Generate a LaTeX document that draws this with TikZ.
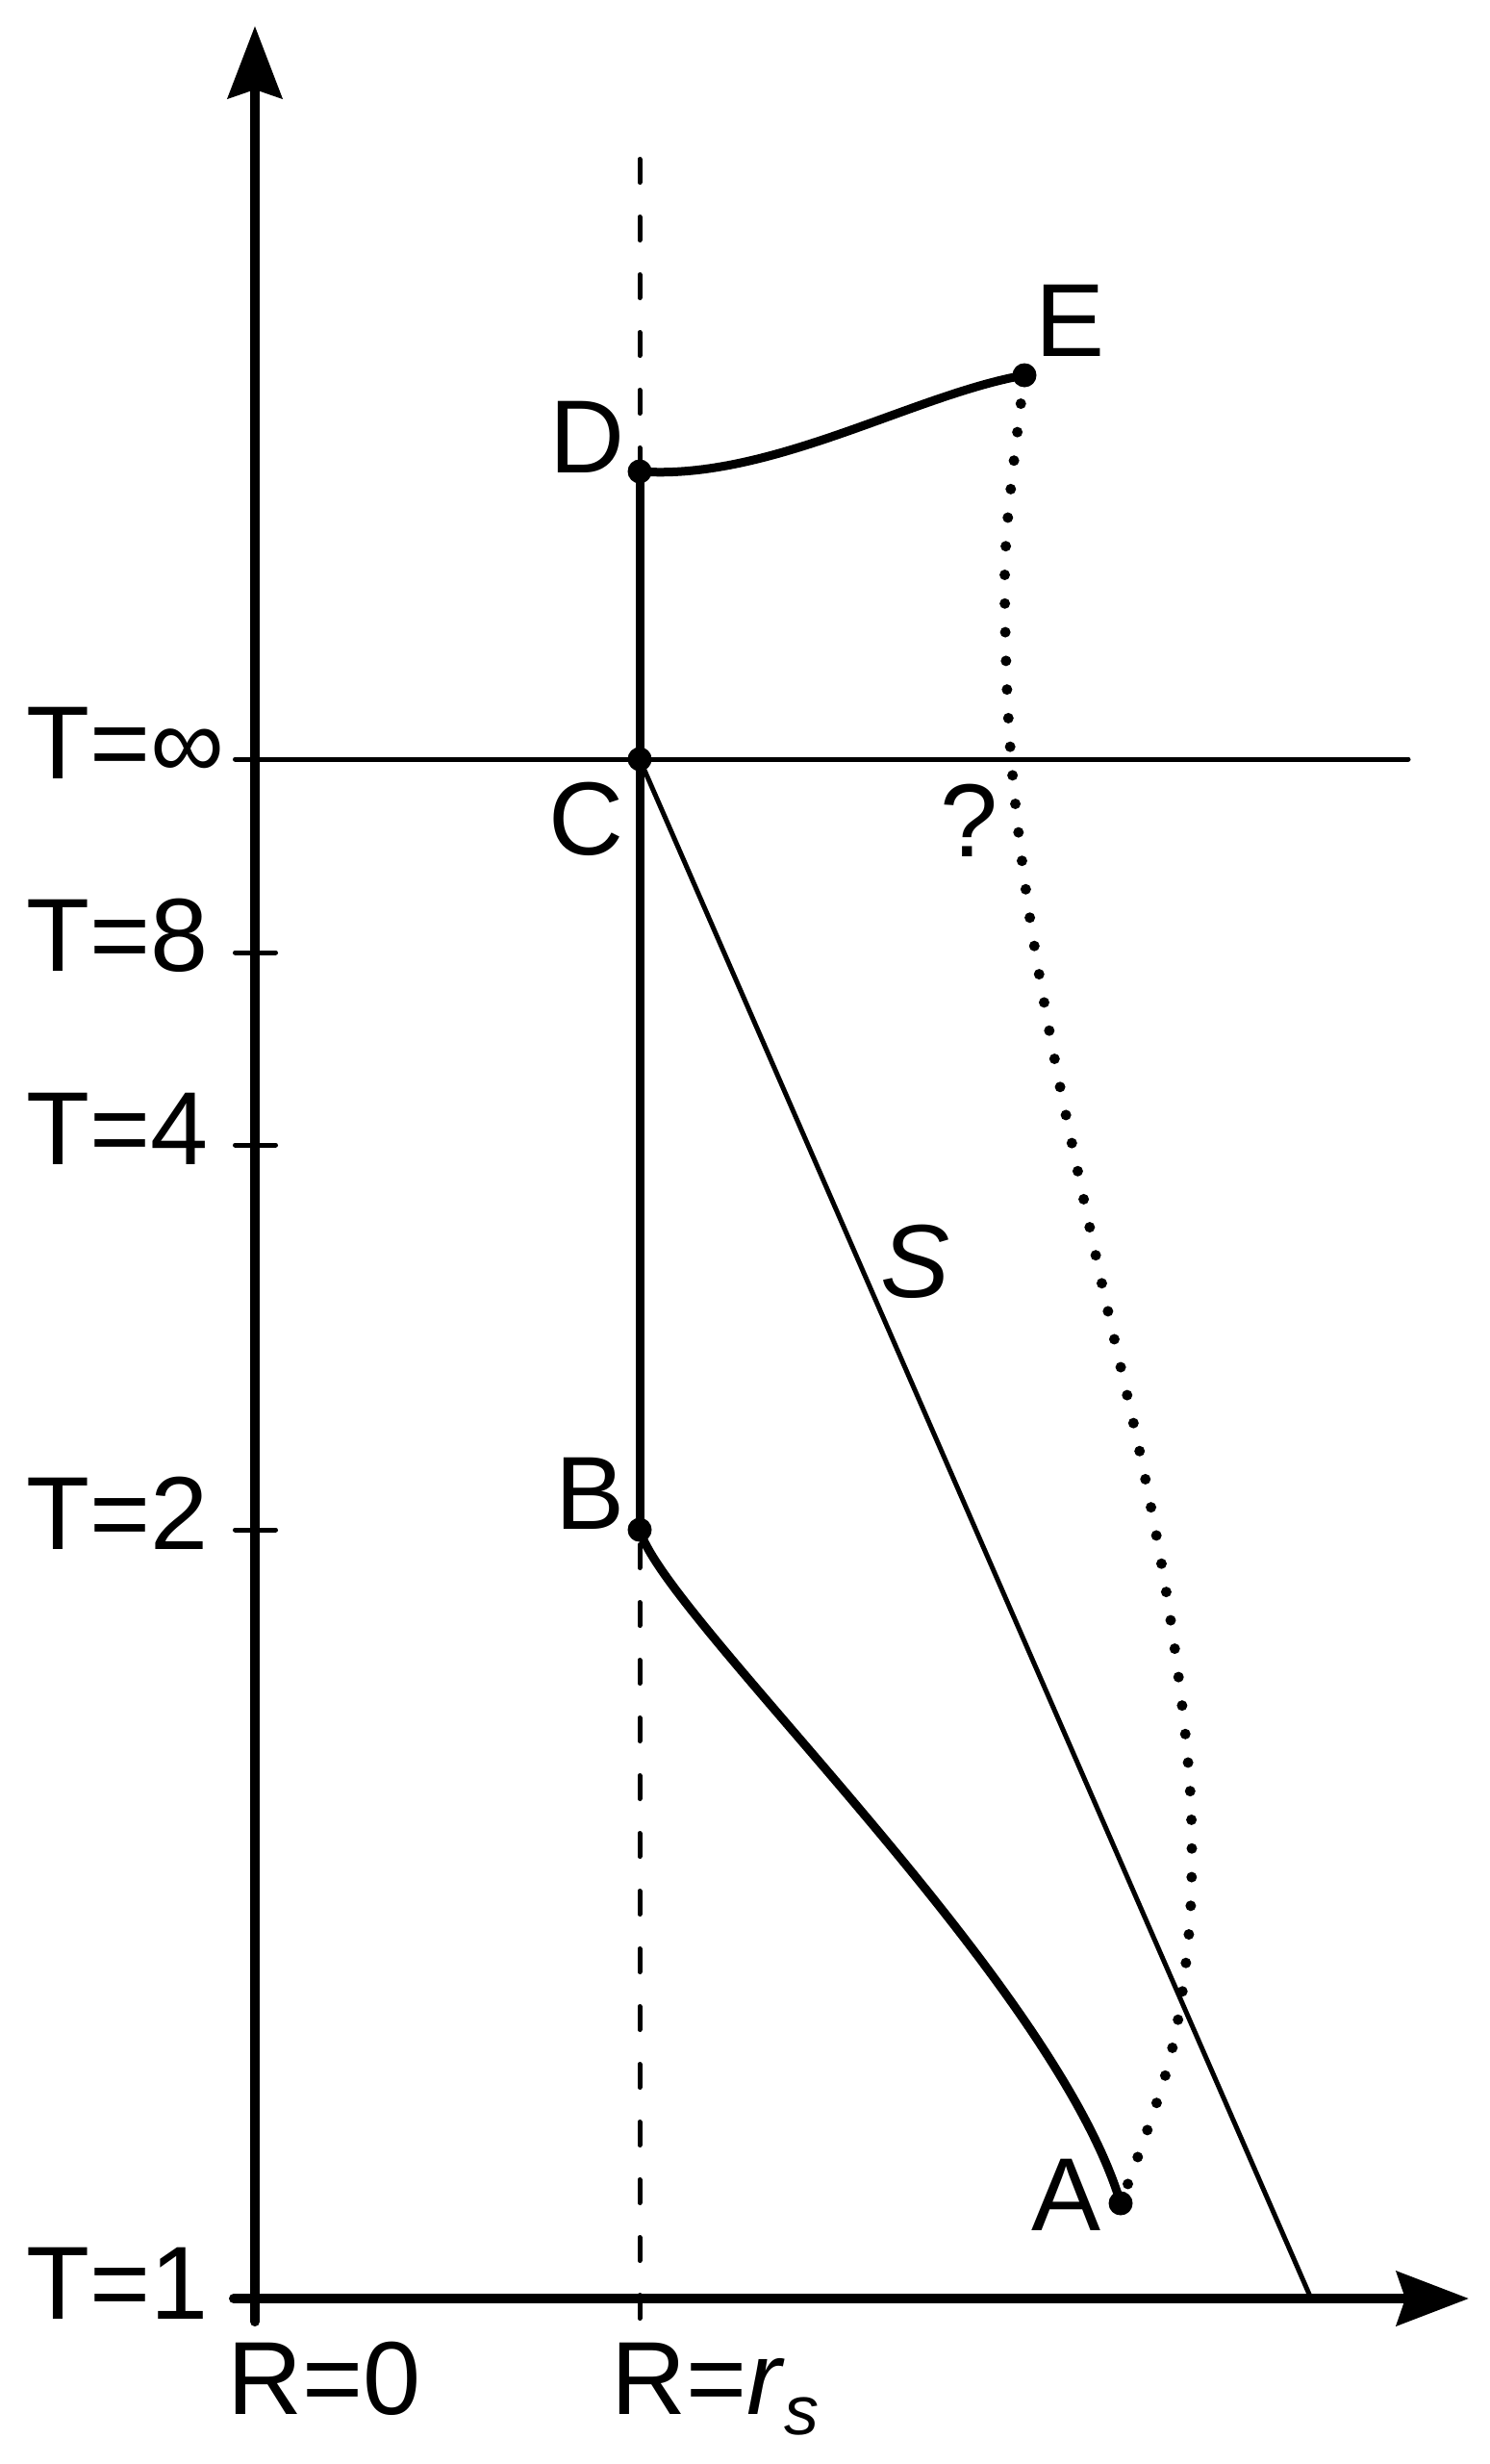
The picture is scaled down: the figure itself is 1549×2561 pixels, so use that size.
\documentclass[tikz,border=0pt]{standalone}
\usepackage{fontspec}
\setmainfont{Liberation Sans}
\usetikzlibrary{arrows.meta}
\begin{document}
\begin{tikzpicture}[x=1pt,y=-1pt,
  lbl/.style={inner sep=0pt, anchor=base west, font=\fontsize{108}{108}\selectfont},
  axisline/.style={line width=10pt, line cap=round, -{Stealth[length=75pt,width=56pt,inset=9pt]}},
  tickmark/.style={line width=5pt, line cap=round},
  thinline/.style={line width=5pt},
  worldline/.style={line width=9pt},
  dotline/.style={line width=11pt, line cap=round, dash pattern=on 0pt off 29.8pt},
  horizon/.style={line width=5pt, line cap=round, dash pattern=on 24pt off 36pt},
  ptdot/.style={fill=black}
]
\useasboundingbox (0,0) rectangle (1549,2561);
\fill[white] (0,0) rectangle (1549,2561);

% named points
\coordinate (O) at (265,2389);
\coordinate (ybot) at (265,2413);
\coordinate (ytop) at (265,27);
\coordinate (xleft) at (243,2389);
\coordinate (xright) at (1527,2389);
\coordinate (htop) at (665,165.5);
\coordinate (hbot) at (665,2410.5);
\coordinate (infL) at (244.5,789);
\coordinate (infR) at (1464,789);
\coordinate (A) at (1165,2290);
\coordinate (B) at (665,1590);
\coordinate (C) at (665,789);
\coordinate (D) at (665,490);
\coordinate (E) at (1065,390);
\coordinate (Send) at (1363,2389);
\coordinate (t8a) at (244.5,990);  \coordinate (t8b) at (286.5,990);
\coordinate (t4a) at (244.5,1190); \coordinate (t4b) at (286.5,1190);
\coordinate (t2a) at (244.5,1590); \coordinate (t2b) at (286.5,1590);

% horizon (dashed)
\draw[horizon] (htop) -- (hbot);

% axes
\draw[axisline] (ybot) -- (ytop);
\draw[axisline] (xleft) -- (xright);

% ticks
\draw[tickmark] (t8a) -- (t8b);
\draw[tickmark] (t4a) -- (t4b);
\draw[tickmark] (t2a) -- (t2b);

% T = infinity line
\draw[thinline, line cap=round] (infL) -- (infR);

% S line
\draw[thinline] (C) -- (Send);

% world lines
\draw[worldline] (B) -- (D);
\draw[worldline] (B) .. controls (690,1680) and (1095,2055) .. (A);
\draw[worldline] (D) .. controls (800,500) and (950,410) .. (E);

% dotted path
\draw[dotline] plot[smooth, tension=0.6] coordinates {(E) (1047,547) (1045,650) (1051,787) (1068,936) (1093,1083) (1117,1201) (1149,1350) (1188,1524) (1215,1671) (1234,1820) (1239,1925) (1234,2030) (1214,2148) (A)};

% point dots
\foreach \p in {A,B,C,D,E} \fill[ptdot] (\p) circle[radius=12.5];

% labels
\node[lbl] (lTinf) at (27,809) {T=∞};
\node[lbl] (lT8) at (27,1009) {T=8};
\node[lbl] (lT4) at (27,1210) {T=4};
\node[lbl] (lT2) at (27,1610) {T=2};
\node[lbl] (lT1) at (27,2410) {T=1};
\node[lbl] (lR0) at (236,2509) {R=0};
\node[lbl] (lRs) at (635,2509) {R=\textit{r}\raisebox{-21pt}{\fontsize{72}{72}\selectfont\itshape s}};
\node[lbl] (lA) at (1072,2318) {A};
\node[lbl] (lB) at (577,1589) {B};
\node[lbl] (lC) at (570,888) {C};
\node[lbl] (lD) at (571,491) {D};
\node[lbl] (lE) at (1076,370) {E};
\node[lbl] (lQ) at (977,890) {?};
\node[lbl] (lS) at (915,1348) {\itshape S};
\end{tikzpicture}
\end{document}
